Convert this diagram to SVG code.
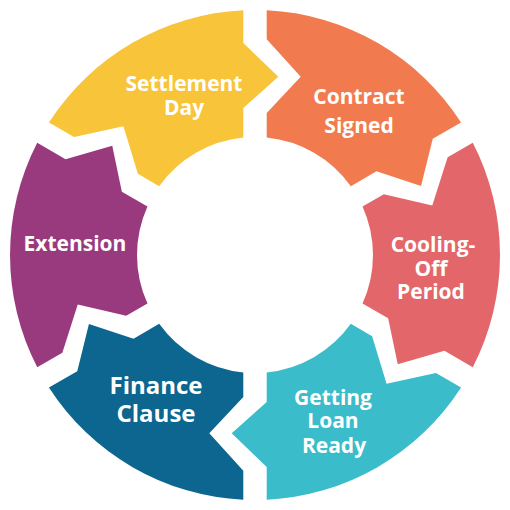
<svg xmlns="http://www.w3.org/2000/svg" xmlns:xlink="http://www.w3.org/1999/xlink" width="510" height="510" viewBox="0 0 510 510">
<style>
.lbl{font-family:"Open Sans","Noto Sans","Liberation Sans",sans-serif;font-weight:700;font-size:21px;fill:#ffffff;text-anchor:middle}
.big{font-size:24px}
</style>
<defs>
<path id="seg" d="M11.7,-117.4 L11.7,-142 L45.7,-178.3 L11.7,-215.7 L11.7,-244.7 A245,245 0 0 1 206.06,-132.48 L177.74,-116.13 L166.06,-68.97 L121.45,-83.63 L95.82,-68.83 A118,118 0 0 0 11.7,-117.4 Z"/>
</defs>
<rect width="510" height="510" fill="#ffffff"/>
<g id="connectors"></g>
<g id="contract-signed">
<use xlink:href="#seg" href="#seg" transform="translate(255,255)" fill="#F17B4F"/>
<text class="lbl"><tspan x="359" y="104">Contract</tspan><tspan x="359" y="133">Signed</tspan></text>
</g>
<g id="cooling-off-period">
<use xlink:href="#seg" href="#seg" transform="translate(255,255) rotate(60)" fill="#E3666A"/>
<text class="lbl"><tspan x="433" y="252">Cooling-</tspan><tspan x="431" y="276">Off</tspan><tspan x="431" y="299">Period</tspan></text>
</g>
<g id="getting-loan-ready">
<use xlink:href="#seg" href="#seg" transform="translate(255,255) rotate(120)" fill="#3ABCCA"/>
<text class="lbl"><tspan x="333" y="405">Getting</tspan><tspan x="333" y="428">Loan</tspan><tspan x="334" y="453">Ready</tspan></text>
</g>
<g id="finance-clause">
<use xlink:href="#seg" href="#seg" transform="translate(255,255) rotate(180)" fill="#0C6690"/>
<text class="lbl big"><tspan x="156" y="394">Finance</tspan><tspan x="156" y="422">Clause</tspan></text>
</g>
<g id="extension">
<use xlink:href="#seg" href="#seg" transform="translate(255,255) rotate(240)" fill="#9A3A7E"/>
<text class="lbl" x="75" y="251">Extension</text>
</g>
<g id="settlement-day">
<use xlink:href="#seg" href="#seg" transform="translate(255,255) rotate(300)" fill="#F8C43A"/>
<text class="lbl"><tspan x="184" y="91">Settlement</tspan><tspan x="184" y="115">Day</tspan></text>
</g>
</svg>
